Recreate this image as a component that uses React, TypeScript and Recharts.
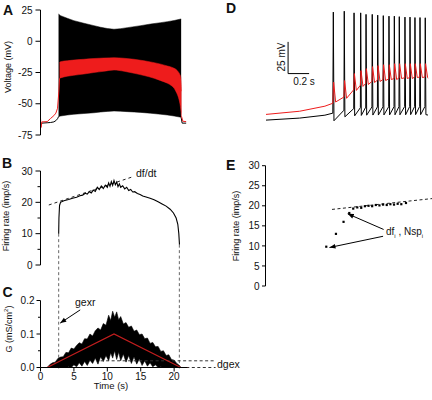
import React from 'react';
import { ComposedChart, Line, Area, Scatter, XAxis, YAxis, ReferenceLine } from 'recharts';

const FONT = '"Liberation Sans", Arial, Helvetica, sans-serif';
const RED = '#ee1c1c';
const DARKRED = '#c41e1e';

// ---- A: voltage (mV) vs time (s)
const aBlkPreT = [0, 0.08, 0.2, 1.0, 1.5, 2.0, 2.3, 2.55, 2.7];
const aBlkPreV = [-65, -66.5, -65.5, -65.2, -65, -64.5, -63.5, -62, -60.3];
const aRedPreT = [0, 0.08, 0.2, 1.0, 1.5, 2.0, 2.3, 2.55, 2.75, 2.85];
const aRedPreV = [-61.5, -69, -64.5, -64.3, -61.8, -59.5, -57.5, -53.6, -40, -29.6];
const aBandT = [2.7, 3, 4, 5, 6.5, 8, 9, 10, 11, 12, 13, 14, 15, 16.5, 18, 19, 20, 21, 21.05];
const aBandHi = [21.8, 20.5, 18.4, 16.5, 14.4, 12.5, 11.2, 10.2, 9.6, 10.1, 10.9, 11.7, 12.5, 13.8, 14.9, 15.7, 16.6, 17.8, 17.8];
const aBandLo = [-60.3, -59.8, -59, -58.4, -57.8, -57.2, -56.6, -56.1, -55.8, -56, -56.3, -56.6, -56.9, -57.6, -58.4, -59, -59.8, -60.8, -61];
const aRedT = [2.85, 3, 4, 5, 6.5, 8, 9.5, 11, 12.5, 14, 15.5, 17, 18, 19, 19.6, 20, 20.3, 20.6, 20.85, 21.0, 21.1];
const aRedHi = [-17, -16.3, -15.6, -15, -14.4, -13.8, -13.4, -13.1, -13.6, -14.4, -15.6, -17.1, -18.3, -19.8, -20.7, -21.6, -22.6, -24.3, -26.5, -29, -40];
const aRedLo = [-29.6, -29.3, -28, -27.2, -26.2, -25, -24, -23, -24, -25.6, -27.4, -29.6, -31.5, -33.6, -35.5, -37.6, -40.5, -44.3, -49.5, -55, -60];
const aBlkPostT = [21.05, 21.2, 21.8];
const aBlkPostV = [-61, -65.5, -65.5];
const aRedPostT = [21.1, 21.3, 21.8];
const aRedPostV = [-60, -64, -64.3];
const aTicks = [-75, -50, -25, 0, 25];

// ---- B: firing rate (imp/s)
const bT = [2.72, 2.76, 2.85, 3.0, 3.5, 4.2, 4.8, 5.4, 5.9, 6.3, 6.7, 7.0, 7.3, 7.6, 7.9, 8.2, 8.5, 8.8, 9.1, 9.4, 9.7,
  10.0, 10.2, 10.4, 10.6, 10.8, 11.0, 11.2, 11.4, 11.6, 11.8, 12.0, 12.3, 12.6, 12.9, 13.2, 13.5, 13.8, 14.1,
  14.5, 14.9, 15.3, 15.8, 16.4, 17.0, 17.6, 18.2, 18.8, 19.4, 19.9, 20.3, 20.55, 20.7, 20.8];
const bRate = [10, 15, 19, 20, 20.5, 20.9, 21.3, 21.6, 22.1, 22.3, 22.9, 22.6, 23.4, 23.0, 23.9, 23.5, 24.8, 24.1, 25.2, 24.4, 25.5,
  24.8, 26.2, 25.1, 26.6, 25.4, 27.0, 25.6, 26.5, 25.0, 25.9, 24.8, 25.3, 24.3, 24.8, 23.8, 24.1, 23.3, 23.4,
  22.8, 22.5, 22.0, 21.7, 21.3, 20.8, 20.2, 19.5, 18.8, 17.8, 16.6, 15.0, 13.0, 10.0, 6.5];
const dfdtT = [1.24, 14.0];
const dfdtV = [19.15, 28.3];
const onOffT = [2.72, 20.78];
const onOffTop = [10, 6.5];
const bTicks = [0, 5, 10, 15, 20, 25, 30];

// ---- C: conductance (mS/cm2)
const cT = [1.0, 1.4, 1.8, 2.2, 2.6, 3.0, 3.4, 3.8, 4.2, 4.6, 5.0, 5.4, 5.8, 6.2, 6.6, 7.0, 7.4, 7.8, 8.2, 8.6, 9.0, 9.4, 9.8, 10.2,
  10.5, 10.8, 11.1, 11.4, 11.7, 12.0,
  12.4, 12.8, 13.2, 13.6, 14.0, 14.4, 14.8, 15.2, 15.6, 16.0, 16.4, 16.8, 17.2, 17.6, 18.0, 18.4, 18.8, 19.2, 19.6, 20.0, 20.4, 20.8, 21.0];
const cHi = [0, 0.009, 0.014, 0.016, 0.027, 0.031, 0.032, 0.045, 0.044, 0.058, 0.055, 0.066, 0.074, 0.07, 0.086, 0.085, 0.1, 0.094, 0.11, 0.118, 0.112, 0.131, 0.126, 0.156,
  0.14, 0.168, 0.15, 0.166, 0.142, 0.152,
  0.13, 0.134, 0.12, 0.124, 0.108, 0.112, 0.098, 0.1, 0.086, 0.088, 0.072, 0.075, 0.062, 0.063, 0.048, 0.05, 0.036, 0.038, 0.024, 0.022, 0.012, 0.006, 0];
const cLo = [0, 0, 0, 0, 0, 0, 0, 0, 0.002, 0, 0.008, 0.002, 0.014, 0.004, 0.018, 0.006, 0.022, 0.012, 0.028, 0.01, 0.032, 0.018, 0.036, 0.02,
  0.044, 0.028, 0.05, 0.024, 0.046, 0.02,
  0.04, 0.016, 0.036, 0.012, 0.032, 0.01, 0.026, 0.006, 0.02, 0.004, 0.014, 0.002, 0.008, 0, 0.002, 0, 0, 0, 0, 0, 0, 0, 0];
const cRedT = [0, 1, 11, 21, 22];
const cRedV = [0, 0, 0.1, 0, 0];
const dgexLevels = [0.02, 0];
const dgexFrom = [9, 21];
const dgexTo = 26.2;
const gexrArrowT = [5.94, 2.95];
const gexrArrowV = [0.172, 0.1325];
const cTicks = [0, 0.05, 0.1, 0.15, 0.2];
const cTimeTicks = [0, 5, 10, 15, 20];

// ---- D: spike trains (s, mV)
const dPreT = [0, 0.32, 0.56, 0.635];
const dBlkPre = [-65, -63.4, -61.1, -59.5];
const dRedPre = [-60.5, -58, -54, -51.7];
const dSpikeT = [0.64, 0.744, 0.837, 0.9, 0.951, 1.01, 1.062, 1.115, 1.169, 1.22, 1.267, 1.321, 1.369, 1.416, 1.464, 1.514];
const dBlkThr = [-59.5, -57.2, -55.9, -55.2, -54.8, -54.6, -54.6, -54.5, -54.5, -54.4, -54.4, -54.3, -54.3, -54.3, -54.2, -54.2];
const dBlkPeak = [20.2, 20.9, 19.6, 19.6, 18.4, 18.4, 17.8, 17.4, 17.0, 17.0, 16.6, 16.25, 16.25, 15.9, 15.9, 15.7];
const dBlkAhp = [-65.5, -62.4, -61.6, -61.3, -61.1, -61.0, -61.0, -60.9, -60.9, -60.8, -60.8, -60.8, -60.7, -60.7, -60.7, -60.7];
const dRedThr = [-51.7, -46.8, -41, -37.5, -36, -34.5, -33.5, -33, -32.5, -32.2, -31.8, -31.6, -31.4, -31, -31, -31];
const dRedPeak = [-35.1, -33.8, -28.3, -26, -24.4, -22.8, -22, -21.3, -21.3, -20.5, -20.5, -20.5, -20.5, -20.5, -20.5, -20.5];
const dRedAhp = [-50.7, -47.8, -41.6, -38.4, -36.9, -35.3, -34.5, -33.8, -33, -33, -32.2, -32.2, -32.2, -31.4, -31.4, -31.4];
const dEndT = 1.54;
const dEndBlk = -61;
const dEndRed = -32;
const scaleBarT = 0.21;
const scaleBarV = -28.3;
const scaleBarDt = 0.2;
const scaleBarDv = 25;

// ---- E: instantaneous firing rate per spike
const eT = [0.584, 0.677, 0.75, 0.805, 0.843, 0.882, 0.92, 0.955, 0.99, 1.025, 1.06, 1.095, 1.13, 1.165, 1.2, 1.235, 1.27, 1.305, 1.35];
const eRate = [9.8, 13.0, 16.0, 18.2, 19.3, 19.6, 19.5, 19.9, 20.0, 19.9, 20.2, 20.1, 20.3, 20.2, 20.4, 20.3, 20.5, 20.4, 20.7];
const eFitT = [0.639, 1.6];
const eFitV = [19.1, 21.8];
const eArrowFromT = [1.135, 1.13];
const eArrowFromV = [14.1, 12.4];
const eArrowToT = [0.79, 0.615];
const eArrowToV = [18.0, 9.6];
const eTicks = [0, 5, 10, 15, 20, 25, 30];

const zip = (t: number[], v: number[]) => t.map((x, i) => ({ t: x, v: v[i] }));
const band = (t: number[], lo: number[], hi: number[]) => t.map((x, i) => ({ t: x, r: [lo[i], hi[i]] }));

function spikeTrain(pre: number[], thr: number[], peak: number[], ahp: number[], up: number, top: number, down: number, end: number) {
  const pts = zip(dPreT, pre);
  dSpikeT.forEach((st, i) => {
    if (i > 0) pts.push({ t: st - up, v: thr[i] });
    pts.push({ t: st + top, v: peak[i] });
    pts.push({ t: st + down, v: ahp[i] });
  });
  pts.push({ t: dEndT, v: end });
  return pts;
}

const blackTrain = spikeTrain(dBlkPre, dBlkThr, dBlkPeak, dBlkAhp, 0.003, 0, 0.006, dEndBlk);
const redTrain = spikeTrain(dRedPre, dRedThr, dRedPeak, dRedAhp, 0.003, 0.003, 0.022, dEndRed);

function yTick(majors: number[], digits: number, size: number, margin: number, minor: number) {
  return (p: any) => {
    const v = p.payload.value;
    const ax = p.x + size + margin;
    const isMajor = majors.some((m) => Math.abs(m - v) < 1e-9);
    return (
      <g>
        <line x1={ax - (isMajor ? size : minor)} x2={ax} y1={p.y} y2={p.y} stroke="#000" strokeWidth={1} />
        {isMajor && (
          <text x={p.x} y={p.y} dy="0.36em" textAnchor="end" fontSize={10} fill="#111" fontFamily={FONT}>
            {v.toFixed(digits)}
          </text>
        )}
      </g>
    );
  };
}

const arrowShape = (p: any) => (
  <line x1={p.x1} y1={p.y1} x2={p.x2} y2={p.y2} stroke="#000" strokeWidth={1} markerEnd="url(#arrowHead)" />
);

function Txt({ x, y, size = 10, rotate = false, anchor = 'middle', children }: any) {
  const tx = anchor === 'middle' ? '-50%' : '0';
  return (
    <div
      style={{
        position: 'absolute',
        left: x,
        top: y,
        fontSize: size,
        lineHeight: 1,
        whiteSpace: 'nowrap',
        transform: `translate(${tx}, -50%)${rotate ? ' rotate(-90deg)' : ''}`,
      }}
    >
      {children}
    </div>
  );
}

function Letter({ x, y, children }: any) {
  return (
    <div style={{ position: 'absolute', left: x, top: y, fontSize: 14, lineHeight: '14px', fontWeight: 'bold' }}>
      {children}
    </div>
  );
}

function PanelA() {
  return (
    <ComposedChart width={200} height={146} margin={{ top: 10, right: 12.5, bottom: 11, left: 0 }}>
      <XAxis type="number" dataKey="t" domain={[0, 22]} hide />
      <YAxis type="number" domain={[-75, 25]} ticks={aTicks} interval={0} width={40.5} tickLine={false}
        tickSize={5} tickMargin={3} tick={yTick(aTicks, 0, 5, 3, 3)} axisLine={{ stroke: '#000' }} />
      <Line data={zip(aBlkPreT, aBlkPreV)} dataKey="v" type="linear" stroke="#000" strokeWidth={1} dot={false} isAnimationActive={false} />
      <Line data={zip(aBlkPostT, aBlkPostV)} dataKey="v" type="linear" stroke="#000" strokeWidth={1} dot={false} isAnimationActive={false} />
      <Area data={band(aBandT, aBandLo, aBandHi)} dataKey="r" type="linear" stroke="#000" strokeWidth={0.5} fill="#000" fillOpacity={1} isAnimationActive={false} />
      <Line data={zip(aRedPreT, aRedPreV)} dataKey="v" type="linear" stroke={RED} strokeWidth={1} dot={false} isAnimationActive={false} />
      <Line data={zip(aRedPostT, aRedPostV)} dataKey="v" type="linear" stroke={RED} strokeWidth={1} dot={false} isAnimationActive={false} />
      <Area data={band(aRedT, aRedLo, aRedHi)} dataKey="r" type="monotone" stroke={RED} strokeWidth={0.5} fill={RED} fillOpacity={1} isAnimationActive={false} />
    </ComposedChart>
  );
}

function PanelB() {
  return (
    <ComposedChart width={200} height={225} margin={{ top: 21, right: 12.5, bottom: 110, left: 0 }}>
      <XAxis type="number" dataKey="t" domain={[0, 22]} hide />
      <YAxis type="number" domain={[0, 30]} ticks={bTicks} interval={0} width={40.5} tickLine={false}
        tickSize={5} tickMargin={3} tick={yTick([0, 10, 20, 30], 0, 5, 3, 3)} axisLine={{ stroke: '#000' }} />
      {onOffT.map((t, i) => (
        <ReferenceLine key={i} segment={[{ x: t, y: onOffTop[i] }, { x: t, y: -33 }]} ifOverflow="visible"
          stroke="#666" strokeDasharray="3 2.5" strokeWidth={1} />
      ))}
      <ReferenceLine segment={[{ x: dfdtT[0], y: dfdtV[0] }, { x: dfdtT[1], y: dfdtV[1] }]} ifOverflow="visible"
        stroke="#222" strokeDasharray="3 3" strokeWidth={1} />
      <Line data={zip(bT, bRate)} dataKey="v" type="linear" stroke="#000" strokeWidth={1.1} dot={false} isAnimationActive={false} />
    </ComposedChart>
  );
}

function PanelC() {
  return (
    <ComposedChart width={235} height={97.5} margin={{ top: 10.5, right: 47.5, bottom: 0, left: 0 }}>
      <XAxis type="number" dataKey="t" domain={[0, 22]} ticks={cTimeTicks} interval={0} height={20}
        tickSize={4} tickMargin={1} tick={{ fontSize: 10, fill: '#111' }} axisLine={{ stroke: '#000' }} tickLine={{ stroke: '#000' }} />
      <YAxis type="number" domain={[0, 0.2]} ticks={cTicks} interval={0} width={40.5} tickLine={false}
        tickSize={4} tickMargin={2} tick={yTick([0, 0.1, 0.2], 1, 4, 2, 2.5)} axisLine={{ stroke: '#000' }} />
      <Area data={band(cT, cLo, cHi)} dataKey="r" type="linear" stroke="#000" strokeWidth={0.6} fill="#000" fillOpacity={1} isAnimationActive={false} />
      {dgexLevels.map((lv, i) => (
        <ReferenceLine key={i} segment={[{ x: dgexFrom[i], y: lv }, { x: dgexTo, y: lv }]} ifOverflow="visible"
          stroke="#333" strokeDasharray="3 2.5" strokeWidth={1} />
      ))}
      <Line data={zip(cRedT, cRedV)} dataKey="v" type="linear" stroke={DARKRED} strokeWidth={1.2} dot={false} isAnimationActive={false} />
      <ReferenceLine segment={[{ x: gexrArrowT[0], y: gexrArrowV[0] }, { x: gexrArrowT[1], y: gexrArrowV[1] }]}
        ifOverflow="visible" shape={arrowShape} />
    </ComposedChart>
  );
}

function PanelD() {
  return (
    <ComposedChart width={176} height={150} margin={{ top: 11.2, right: 4, bottom: 17.2, left: 10 }}>
      <XAxis type="number" dataKey="t" domain={[0, dEndT]} hide />
      <YAxis type="number" domain={[-75, 20]} hide />
      <Line data={blackTrain} dataKey="v" type="linear" stroke="#000" strokeWidth={1} dot={false} isAnimationActive={false} />
      <Line data={redTrain} dataKey="v" type="linear" stroke={RED} strokeWidth={1} dot={false} isAnimationActive={false} />
      <ReferenceLine segment={[{ x: scaleBarT, y: scaleBarV }, { x: scaleBarT, y: scaleBarV + scaleBarDv }]} stroke="#000" strokeWidth={1} />
      <ReferenceLine segment={[{ x: scaleBarT, y: scaleBarV }, { x: scaleBarT + scaleBarDt, y: scaleBarV }]} stroke="#000" strokeWidth={1} />
    </ComposedChart>
  );
}

function PanelE() {
  return (
    <ComposedChart width={207} height={150} margin={{ top: 15.7, right: 0, bottom: 14, left: 0 }}>
      <XAxis type="number" dataKey="t" domain={[0, 1.6]} hide />
      <YAxis type="number" domain={[0, 30]} ticks={eTicks} interval={0} width={40.5} tickLine={false}
        tickSize={3.5} tickMargin={2.5} tick={yTick(eTicks, 0, 3.5, 2.5, 3.5)} axisLine={{ stroke: '#000' }} />
      <ReferenceLine segment={[{ x: eFitT[0], y: eFitV[0] }, { x: eFitT[1], y: eFitV[1] }]} ifOverflow="visible"
        stroke="#222" strokeDasharray="3 2.5" strokeWidth={1} />
      <Scatter data={zip(eT, eRate)} dataKey="v" isAnimationActive={false}
        shape={(p: any) => <rect x={p.cx - 1.1} y={p.cy - 1.1} width={2.2} height={2.2} fill="#000" />} />
      {eArrowFromT.map((t, i) => (
        <ReferenceLine key={i} segment={[{ x: t, y: eArrowFromV[i] }, { x: eArrowToT[i], y: eArrowToV[i] }]}
          ifOverflow="visible" shape={arrowShape} />
      ))}
    </ComposedChart>
  );
}

export default function App() {
  return (
    <div style={{ position: 'absolute', left: 0, top: 0, width: 432, height: 400, overflow: 'hidden', background: '#fff', fontFamily: FONT, color: '#111' }}>
      <svg width={0} height={0} style={{ position: 'absolute' }}>
        <defs>
          <marker id="arrowHead" viewBox="0 0 10 10" refX="10" refY="5" markerWidth="7" markerHeight="6" orient="auto">
            <path d="M0,1 L10,5 L0,9 z" fill="#000" />
          </marker>
        </defs>
      </svg>
      <div style={{ position: 'absolute', left: 0, top: 150 }}><PanelB /></div>
      <div style={{ position: 'absolute', left: 0, top: 290 }}><PanelC /></div>
      <div style={{ position: 'absolute', left: 0, top: 0 }}><PanelA /></div>
      <div style={{ position: 'absolute', left: 256, top: 0 }}><PanelD /></div>
      <div style={{ position: 'absolute', left: 225, top: 150 }}><PanelE /></div>

      <Letter x={3} y={3}>A</Letter>
      <Letter x={2} y={156}>B</Letter>
      <Letter x={2.5} y={285}>C</Letter>
      <Letter x={226} y={1}>D</Letter>
      <Letter x={226} y={158}>E</Letter>

      <Txt x={8} y={67} size={9} rotate>Voltage (mV)</Txt>
      <Txt x={6} y={216} size={9} rotate>Firing rate (imp/s)</Txt>
      <Txt x={8} y={329} size={9} rotate>G (mS/cm<sup style={{ fontSize: 6 }}>2</sup>)</Txt>
      <Txt x={236} y={226} size={9} rotate>Firing rate (imp/s)</Txt>
      <Txt x={111} y={386} size={9.5}>Time (s)</Txt>

      <Txt x={136} y={173} size={10.5} anchor="start">df/dt</Txt>
      <Txt x={75} y={302} size={10.5} anchor="start">gexr</Txt>
      <Txt x={217} y={364} size={10.5} anchor="start">dgex</Txt>
      <Txt x={386} y={233} size={10} anchor="start">
        df<sub style={{ fontSize: 6 }}>i</sub> , Nsp<sub style={{ fontSize: 6 }}>i</sub>
      </Txt>
      <Txt x={282} y={57} size={10} rotate>25 mV</Txt>
      <Txt x={304} y={82} size={10}>0.2 s</Txt>
    </div>
  );
}
